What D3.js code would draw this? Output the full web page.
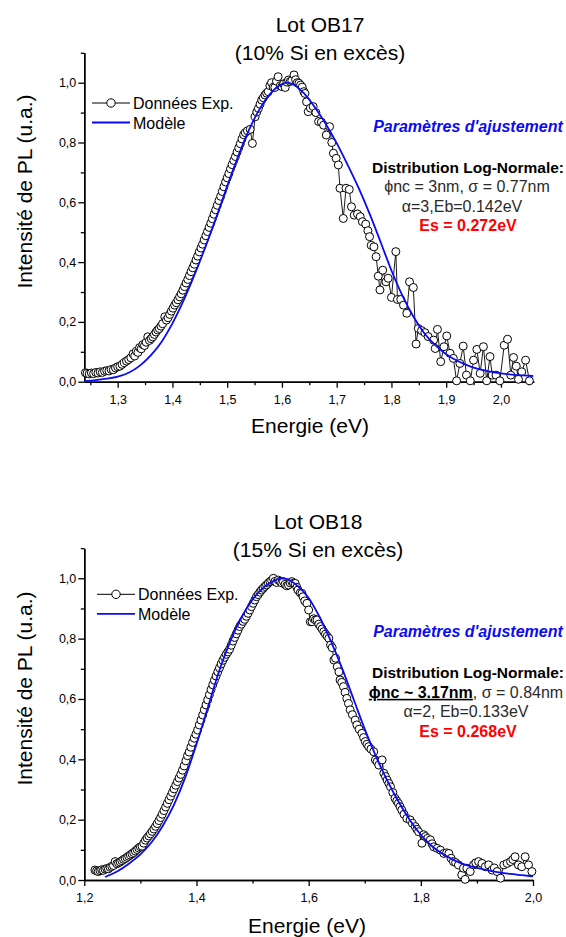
<!DOCTYPE html>
<html><head><meta charset="utf-8">
<script src="https://cdn.jsdelivr.net/npm/d3@7"></script>
<style>
html,body{margin:0;padding:0;background:#fff;}
svg{display:block;font-family:"Liberation Sans",Arial,Helvetica,sans-serif;}
</style></head>
<body>
<svg id="chart" width="566" height="937"></svg>
<script>
// ---------------- DATA ----------------
// Lot OB17 experimental points
const ob17Energy = [1.241,1.244,1.248,1.252,1.256,1.260,1.264,1.268,1.272,1.276,1.280,1.284,1.288,1.292,1.296,1.300,1.304,1.308,1.312,1.316,1.320,1.324,1.328,1.331,1.334,1.337,1.340,1.343,1.346,1.349,1.352,1.355,1.358,1.361,1.364,1.367,1.370,1.373,1.376,1.379,1.382,1.386,1.389,1.392,1.395,1.398,1.401,1.404,1.407,1.410,1.413,1.416,1.419,1.422,1.425,1.428,1.431,1.434,1.437,1.440,1.443,1.446,1.449,1.452,1.455,1.458,1.461,1.464,1.467,1.470,1.473,1.476,1.479,1.482,1.485,1.488,1.491,1.494,1.497,1.500,1.503,1.506,1.509,1.512,1.515,1.518,1.521,1.524,1.527,1.530,1.533,1.537,1.542,1.546,1.551,1.554,1.557,1.560,1.563,1.566,1.569,1.572,1.575,1.578,1.581,1.584,1.587,1.590,1.593,1.597,1.600,1.603,1.606,1.609,1.612,1.615,1.618,1.622,1.625,1.628,1.631,1.634,1.637,1.640,1.642,1.645,1.648,1.652,1.657,1.662,1.667,1.672,1.676,1.681,1.687,1.691,1.694,1.699,1.703,1.706,1.712,1.717,1.723,1.727,1.732,1.738,1.743,1.747,1.753,1.757,1.760,1.763,1.768,1.772,1.776,1.779,1.784,1.790,1.794,1.800,1.808,1.811,1.817,1.822,1.828,1.833,1.840,1.845,1.849,1.855,1.861,1.867,1.877,1.880,1.884,1.890,1.896,1.901,1.907,1.913,1.919,1.925,1.931,1.937,1.944,1.950,1.956,1.962,1.968,1.974,1.980,1.984,1.991,1.998,2.006,2.012,2.018,2.023,2.028,2.032,2.038,2.045,2.052];
const ob17Intensity = [0.030,0.028,0.026,0.029,0.027,0.031,0.029,0.033,0.031,0.035,0.037,0.036,0.041,0.040,0.046,0.050,0.052,0.058,0.064,0.069,0.074,0.080,0.093,0.086,0.102,0.098,0.114,0.110,0.124,0.121,0.132,0.150,0.138,0.144,0.150,0.158,0.166,0.173,0.178,0.186,0.194,0.217,0.206,0.214,0.225,0.236,0.246,0.256,0.264,0.274,0.284,0.294,0.306,0.318,0.330,0.342,0.355,0.368,0.381,0.393,0.407,0.420,0.434,0.447,0.460,0.474,0.488,0.502,0.516,0.530,0.545,0.560,0.575,0.590,0.606,0.620,0.636,0.652,0.668,0.682,0.696,0.712,0.726,0.740,0.753,0.768,0.782,0.796,0.812,0.826,0.833,0.839,0.844,0.797,0.886,0.902,0.914,0.928,0.942,0.950,0.959,0.965,0.970,0.990,1.000,0.985,0.984,1.005,1.020,0.990,0.987,0.996,0.984,1.002,1.009,1.004,1.007,1.026,1.010,1.000,0.998,0.992,0.985,0.970,0.964,0.936,0.903,0.915,0.920,0.900,0.870,0.868,0.858,0.825,0.853,0.800,0.764,0.747,0.725,0.647,0.546,0.647,0.643,0.585,0.557,0.561,0.552,0.535,0.527,0.505,0.485,0.456,0.451,0.418,0.353,0.307,0.373,0.334,0.346,0.282,0.435,0.275,0.275,0.256,0.229,0.334,0.315,0.126,0.178,0.171,0.164,0.151,0.139,0.111,0.175,0.067,0.117,0.153,0.095,0.078,0.003,0.061,0.119,0.022,0.003,0.072,0.108,0.028,0.117,0.003,0.084,0.022,0.022,0.003,0.122,0.142,0.022,0.081,0.052,0.008,0.033,0.072,0.003];
// Lot OB17 model (log-normal fit)
const fit17Energy = [1.239,1.26,1.28,1.30,1.32,1.34,1.36,1.38,1.40,1.42,1.44,1.46,1.48,1.50,1.52,1.54,1.56,1.58,1.60,1.61,1.62,1.64,1.66,1.68,1.70,1.72,1.74,1.76,1.78,1.80,1.82,1.84,1.86,1.88,1.90,1.92,1.94,1.96,1.98,2.00,2.02,2.04,2.059];
const fit17Intensity = [0.002,0.005,0.010,0.017,0.030,0.053,0.087,0.133,0.195,0.270,0.356,0.450,0.550,0.654,0.754,0.843,0.914,0.966,0.995,1.000,0.995,0.965,0.918,0.862,0.798,0.725,0.648,0.562,0.468,0.372,0.288,0.218,0.162,0.122,0.092,0.070,0.054,0.042,0.034,0.028,0.024,0.021,0.019];

// Lot OB18 experimental points
const ob18Energy = [1.219,1.222,1.225,1.228,1.231,1.234,1.237,1.240,1.243,1.246,1.249,1.252,1.255,1.258,1.261,1.264,1.267,1.270,1.273,1.276,1.279,1.282,1.285,1.288,1.291,1.294,1.297,1.300,1.303,1.306,1.309,1.312,1.315,1.318,1.321,1.324,1.327,1.330,1.333,1.336,1.339,1.342,1.345,1.348,1.351,1.354,1.357,1.360,1.363,1.366,1.369,1.372,1.375,1.378,1.381,1.384,1.387,1.390,1.393,1.396,1.399,1.402,1.405,1.408,1.411,1.414,1.417,1.420,1.423,1.426,1.429,1.432,1.435,1.438,1.441,1.444,1.447,1.450,1.453,1.456,1.459,1.462,1.465,1.468,1.471,1.474,1.477,1.480,1.483,1.486,1.489,1.492,1.495,1.498,1.501,1.504,1.507,1.510,1.513,1.516,1.519,1.522,1.525,1.528,1.531,1.534,1.537,1.540,1.543,1.546,1.549,1.552,1.555,1.558,1.561,1.564,1.567,1.570,1.573,1.576,1.579,1.581,1.585,1.588,1.590,1.593,1.597,1.600,1.603,1.606,1.609,1.612,1.615,1.618,1.621,1.624,1.627,1.630,1.633,1.636,1.639,1.642,1.645,1.648,1.651,1.654,1.656,1.659,1.662,1.665,1.668,1.671,1.674,1.678,1.683,1.686,1.690,1.695,1.698,1.701,1.704,1.707,1.711,1.716,1.719,1.722,1.725,1.731,1.734,1.737,1.740,1.743,1.746,1.750,1.754,1.757,1.760,1.763,1.766,1.770,1.775,1.781,1.785,1.790,1.793,1.796,1.802,1.805,1.808,1.812,1.817,1.820,1.823,1.829,1.835,1.841,1.846,1.850,1.854,1.858,1.862,1.867,1.873,1.876,1.879,1.882,1.888,1.894,1.898,1.903,1.909,1.915,1.921,1.927,1.931,1.936,1.942,1.948,1.954,1.960,1.964,1.968,1.974,1.980,1.986,1.992,1.998];
const ob18Intensity = [0.033,0.030,0.028,0.031,0.034,0.032,0.036,0.038,0.037,0.042,0.045,0.048,0.061,0.054,0.057,0.060,0.064,0.068,0.071,0.075,0.079,0.083,0.087,0.091,0.096,0.101,0.106,0.110,0.112,0.122,0.132,0.139,0.146,0.153,0.161,0.169,0.178,0.187,0.197,0.207,0.218,0.230,0.242,0.254,0.266,0.278,0.290,0.302,0.314,0.326,0.338,0.350,0.364,0.378,0.395,0.412,0.424,0.440,0.456,0.470,0.483,0.497,0.514,0.530,0.547,0.564,0.580,0.597,0.614,0.631,0.647,0.662,0.676,0.690,0.703,0.716,0.728,0.738,0.748,0.756,0.765,0.778,0.792,0.804,0.816,0.828,0.840,0.848,0.857,0.864,0.874,0.884,0.895,0.906,0.917,0.928,0.939,0.946,0.954,0.961,0.967,0.973,0.978,0.984,0.989,0.993,1.000,0.990,0.986,0.994,0.990,0.985,0.989,0.980,0.975,0.978,0.985,0.989,0.984,0.983,0.970,0.961,0.952,0.950,0.939,0.925,0.917,0.895,0.856,0.856,0.866,0.862,0.862,0.848,0.840,0.832,0.823,0.815,0.808,0.801,0.779,0.770,0.729,0.735,0.707,0.690,0.663,0.655,0.641,0.622,0.602,0.585,0.564,0.548,0.530,0.514,0.500,0.486,0.472,0.459,0.450,0.442,0.434,0.425,0.398,0.392,0.381,0.398,0.354,0.343,0.331,0.320,0.309,0.290,0.271,0.262,0.254,0.243,0.232,0.218,0.204,0.199,0.188,0.177,0.168,0.160,0.122,0.150,0.144,0.138,0.133,0.120,0.110,0.105,0.099,0.088,0.090,0.088,0.072,0.061,0.058,0.050,0.017,0.039,0.002,0.039,0.028,0.050,0.057,0.061,0.055,0.044,0.050,0.033,0.040,0.028,0.006,0.050,0.055,0.061,0.068,0.077,0.050,0.044,0.077,0.050,0.028];
// Lot OB18 model
const fit18Energy = [1.237,1.26,1.28,1.30,1.32,1.34,1.36,1.38,1.40,1.42,1.44,1.46,1.48,1.50,1.52,1.54,1.55,1.56,1.58,1.60,1.62,1.64,1.66,1.68,1.70,1.72,1.74,1.76,1.78,1.80,1.82,1.84,1.86,1.88,1.90,1.92,1.94,1.96,1.98,2.00];
const fit18Intensity = [0.010,0.030,0.055,0.085,0.125,0.180,0.250,0.340,0.450,0.570,0.690,0.790,0.870,0.930,0.970,0.993,1.000,0.998,0.975,0.935,0.870,0.790,0.700,0.600,0.500,0.410,0.330,0.260,0.200,0.150,0.112,0.085,0.065,0.050,0.040,0.032,0.025,0.020,0.016,0.012];

// axis ticks
const yMajorTicks = [0, 0.2, 0.4, 0.6, 0.8, 1.0];
const yMinorTicks = [0.1, 0.3, 0.5, 0.7, 0.9, 1.1];
const x17MajorTicks = [1.3, 1.4, 1.5, 1.6, 1.7, 1.8, 1.9, 2.0];
const x17MinorTicks = [1.25, 1.35, 1.45, 1.55, 1.65, 1.75, 1.85, 1.95, 2.05];
const x18MajorTicks = [1.2, 1.4, 1.6, 1.8, 2.0];
const x18MinorTicks = [1.3, 1.5, 1.7, 1.9];

const seriesNames = ["Données Exp.", "Modèle"];
const titles17 = ["Lot OB17", "(10% Si en excès)"];
const titles18 = ["Lot OB18", "(15% Si en excès)"];
const xLabel = "Energie (eV)";
const yLabel = "Intensité de PL (u.a.)";

// ---------------- DRAW ----------------
const svg = d3.select("#chart");
const BLUE = "#0a0af5";
const fmt = v => d3.format(".1f")(v).replace(".", ",");

function panel(o) {
  const x = d3.scaleLinear().domain(o.xDomain).range([o.left, o.right]);
  const y = d3.scaleLinear().domain([0, 1.1]).range([o.y0, o.y0 - 1.1 * o.ky]);
  const g = svg.append("g");

  // titles
  g.append("text").attr("x", o.titleX).attr("y", o.t1).attr("text-anchor", "middle")
    .attr("font-size", 21).text(o.titles[0]);
  g.append("text").attr("x", o.titleX).attr("y", o.t2).attr("text-anchor", "middle")
    .attr("font-size", 21).text(o.titles[1]);

  // axes
  g.append("g").attr("transform", `translate(${o.left},0)`)
    .call(d3.axisLeft(y).tickValues(yMajorTicks).tickFormat(fmt).tickSize(6).tickSizeOuter(0).tickPadding(2));
  g.append("g").attr("transform", `translate(${o.left},0)`)
    .call(d3.axisLeft(y).tickValues(yMinorTicks).tickFormat("").tickSize(3.5).tickSizeOuter(0));
  g.append("g").attr("transform", `translate(0,${o.y0})`)
    .call(d3.axisBottom(x).tickValues(o.xMajor).tickFormat(fmt).tickSize(6).tickSizeOuter(0).tickPadding(7));
  g.append("g").attr("transform", `translate(0,${o.y0})`)
    .call(d3.axisBottom(x).tickValues(o.xMinor).tickFormat("").tickSize(3.5).tickSizeOuter(0));
  g.selectAll(".domain").attr("stroke", "#000").attr("stroke-width", 1.4);
  g.selectAll(".tick line").attr("stroke", "#000").attr("stroke-width", 1.3);
  g.selectAll(".tick text").attr("font-size", 12.5).attr("fill", "#000")
    .attr("font-family", "'Liberation Sans',Arial,sans-serif");

  // axis labels
  g.append("text").attr("x", o.xLabX).attr("y", o.xLabY).attr("text-anchor", "middle")
    .attr("font-size", 21).text(xLabel);
  g.append("text").attr("transform", `translate(${31.5},${o.yLabCY}) rotate(-90)`)
    .attr("text-anchor", "middle").attr("font-size", 21).text(yLabel);

  // experimental data
  const pts = o.E.map((e, i) => [e, o.I[i]]);
  const line = d3.line().x(d => x(d[0])).y(d => y(d[1]));
  g.append("path").datum(pts).attr("d", line).attr("fill", "none")
    .attr("stroke", "#000").attr("stroke-width", 0.9);
  g.selectAll("circle.pt").data(pts).join("circle").attr("class", "pt")
    .attr("cx", d => x(d[0])).attr("cy", d => y(d[1])).attr("r", 4)
    .attr("fill", "#fff").attr("stroke", "#000").attr("stroke-width", 1);

  // model
  const fpts = o.FE.map((e, i) => [e, o.FI[i]]);
  g.append("path").datum(fpts).attr("d", d3.line().curve(d3.curveMonotoneX).x(d => x(d[0])).y(d => y(d[1])))
    .attr("fill", "none").attr("stroke", BLUE).attr("stroke-width", 1.8);

  // legend
  const lx = o.legX, ly = o.legY;
  g.append("line").attr("x1", lx).attr("x2", lx + 38).attr("y1", ly).attr("y2", ly)
    .attr("stroke", "#000").attr("stroke-width", 1);
  g.append("circle").attr("cx", lx + 19).attr("cy", ly).attr("r", 4.2)
    .attr("fill", "#fff").attr("stroke", "#000").attr("stroke-width", 1);
  g.append("text").attr("x", lx + 41).attr("y", ly + 5.5).attr("font-size", 16).text(seriesNames[0]);
  g.append("line").attr("x1", lx).attr("x2", lx + 38).attr("y1", ly + 19.5).attr("y2", ly + 19.5)
    .attr("stroke", BLUE).attr("stroke-width", 1.8);
  g.append("text").attr("x", lx + 41).attr("y", ly + 25.5).attr("font-size", 16).text(seriesNames[1]);

  // annotation
  const ax = 468, ab = o.annY;
  g.append("text").attr("x", ax).attr("y", ab).attr("text-anchor", "middle")
    .attr("font-size", 16).attr("font-weight", "bold").attr("font-style", "italic")
    .attr("fill", BLUE).text("Paramètres d'ajustement");
  g.append("text").attr("x", ax).attr("y", ab + 41).attr("text-anchor", "middle")
    .attr("font-size", 15.5).attr("font-weight", "bold").attr("fill", "#000")
    .text("Distribution Log-Normale:");
  o.phiLine(g, ax, ab + 60.5);
  g.append("text").attr("x", o.alphaX).attr("y", ab + 80).attr("text-anchor", "middle")
    .attr("font-size", 16).attr("fill", "#2a2a2a").text(o.alphaText);
  g.append("text").attr("x", ax).attr("y", ab + 99.5).attr("text-anchor", "middle")
    .attr("font-size", 16).attr("font-weight", "bold").attr("fill", "#ff0000").text(o.esText);
}

panel({
  xDomain: [1.239, 2.06], left: 84.3, right: 533.8, y0: 381.7, ky: 299,
  xMajor: x17MajorTicks, xMinor: x17MinorTicks,
  titles: titles17, titleX: 320, t1: 31.7, t2: 60,
  xLabX: 310, xLabY: 433.3, yLabCY: 191.5,
  E: ob17Energy, I: ob17Intensity, FE: fit17Energy, FI: fit17Intensity,
  legX: 92, legY: 103,
  annY: 131.7,
  phiLine: (g, x, yb) => g.append("text").attr("x", x - 1).attr("y", yb).attr("text-anchor", "middle")
    .attr("font-size", 16).attr("fill", "#2a2a2a").text("ϕnc = 3nm, σ = 0.77nm"),
  alphaX: 462, alphaText: "α=3,Eb=0.142eV", esText: "Es = 0.272eV"
});

panel({
  xDomain: [1.2, 2.0], left: 84.3, right: 533, y0: 880, ky: 301.7,
  xMajor: x18MajorTicks, xMinor: x18MinorTicks,
  titles: titles18, titleX: 318, t1: 528.7, t2: 557,
  xLabX: 307, xLabY: 933, yLabCY: 688.5,
  E: ob18Energy, I: ob18Intensity, FE: fit18Energy, FI: fit18Intensity,
  legX: 97, legY: 594.3,
  annY: 637.3,
  phiLine: (g, x, yb) => {
    const t = g.append("text").attr("x", x - 2).attr("y", yb).attr("text-anchor", "middle")
      .attr("font-size", 16).attr("fill", "#2a2a2a");
    t.append("tspan").attr("font-weight", "bold").attr("fill", "#000")
      .attr("text-decoration", "underline").style("text-decoration", "underline").text("ϕnc ~ 3.17nm");
    t.append("tspan").text(", σ = 0.84nm");
  },
  alphaX: 466, alphaText: "α=2, Eb=0.133eV", esText: "Es = 0.268eV"
});
</script>
</body></html>
